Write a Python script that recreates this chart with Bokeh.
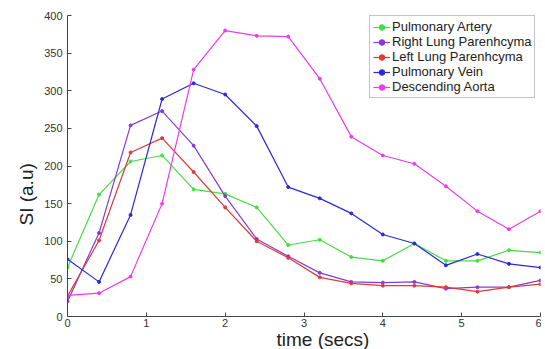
from bokeh.plotting import figure
from bokeh.models import Legend, LegendItem, FixedTicker, Title
from bokeh.embed import file_html
from bokeh.resources import INLINE

time = [0.0, 0.4, 0.8, 1.2, 1.6, 2.0, 2.4, 2.8, 3.2, 3.6, 4.0, 4.4, 4.8, 5.2, 5.6, 6.0]
pulmonary_artery = [65, 162, 206, 214, 169, 163, 145, 95, 102, 79, 74, 97, 74, 74, 88, 85]
right_lung = [20, 111, 254, 273, 227, 160, 103, 80, 58, 46, 45, 46, 37, 39, 39, 48]
left_lung = [27, 101, 218, 237, 192, 145, 100, 78, 52, 44, 41, 41, 39, 33, 39, 43]
pulmonary_vein = [76, 46, 135, 289, 310, 295, 253, 172, 157, 137, 109, 97, 68, 83, 70, 65]
descending_aorta = [28, 31, 53, 150, 328, 380, 373, 372, 316, 239, 214, 203, 173, 140, 116, 140]

series_names = ["Pulmonary Artery", "Right Lung Parenhcyma", "Left Lung Parenhcyma",
                "Pulmonary Vein", "Descending Aorta"]
series_values = [pulmonary_artery, right_lung, left_lung, pulmonary_vein, descending_aorta]
series_colors = ["#44dd44", "#8a3ad6", "#dd3a3a", "#2a2ad8", "#ec3aec"]

x_ticks = [0, 1, 2, 3, 4, 5, 6]
y_ticks = [0, 50, 100, 150, 200, 250, 300, 350, 400]
x_label = "time (secs)"
y_label = "SI (a.u)"

p = figure(width=541, height=349, output_backend="svg", toolbar_location=None,
           x_range=(0, 6), y_range=(0, 400),
           min_border_left=67, min_border_right=1, min_border_top=15, min_border_bottom=33)
p.outline_line_color = None
p.grid.grid_line_color = None
p.background_fill_color = "white"

items = []
for name, vals, col in zip(series_names, series_values, series_colors):
    r1 = p.line(time, vals, line_color=col, line_width=1.2)
    r2 = p.scatter(time, vals, size=3, fill_color=col, line_color=col)
    items.append(LegendItem(label=name, renderers=[r1, r2]))

legend = Legend(items=items, location=(302, 218), label_text_font="Liberation Sans",
                label_text_font_size="13px", label_height=14, glyph_height=14,
                glyph_width=17, spacing=0, padding=3, margin=0,
                border_line_color="#888888", border_line_width=1,
                label_standoff=2, label_text_color="#222222")
p.add_layout(legend)

for ax in (p.xaxis[0], p.yaxis[0]):
    ax.major_tick_in = 4
    ax.major_tick_out = 0
    ax.minor_tick_line_color = None
    ax.axis_line_color = "#444444"
    ax.major_tick_line_color = "#444444"
    ax.major_label_text_font = "Liberation Sans"
    ax.major_label_text_font_size = "11px"
    ax.major_label_text_color = "#333333"

p.xaxis[0].ticker = FixedTicker(ticks=x_ticks)
p.yaxis[0].ticker = FixedTicker(ticks=y_ticks)
p.xaxis[0].major_label_standoff = 2
p.yaxis[0].major_label_standoff = 5

p.add_layout(Title(text=x_label, align="left", offset=209, standoff=-6,
                   text_font="Liberation Sans", text_font_size="19px",
                   text_font_style="normal", text_color="#222222"), "below")
p.add_layout(Title(text=y_label, align="left", offset=91, standoff=10,
                   text_font="Liberation Sans", text_font_size="19px",
                   text_font_style="normal", text_color="#222222"), "left")

open("out.html", "w").write(file_html(p, INLINE))
